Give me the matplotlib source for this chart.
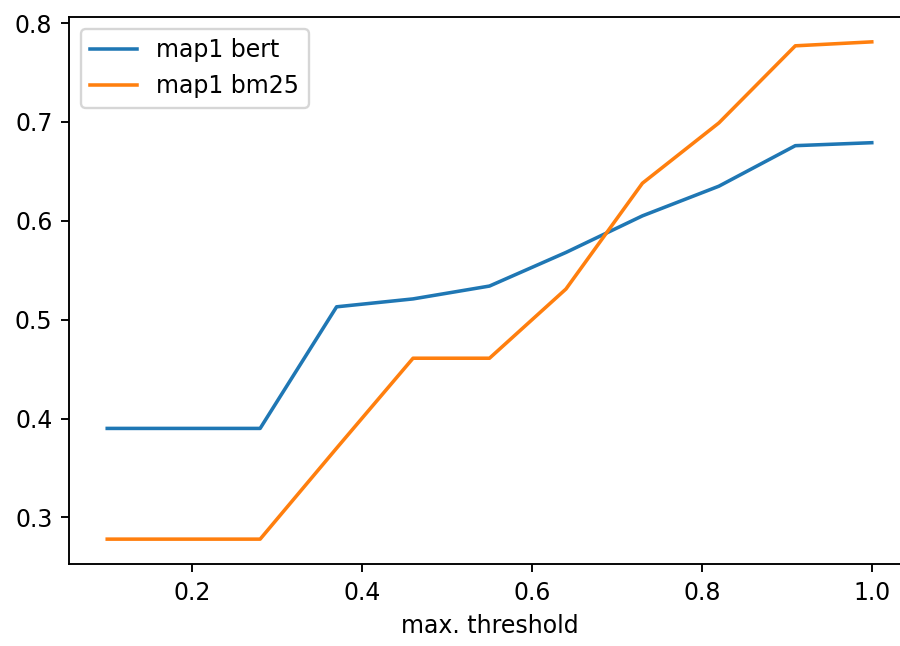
import numpy as np
import matplotlib
matplotlib.use("Agg")
import matplotlib.pyplot as plt

# thresholds 0.1 .. 1.0
thresholds = [0.1, 0.19, 0.28, 0.37, 0.46, 0.55, 0.64, 0.73, 0.82, 0.91, 1.0]

map1_bert = [0.390, 0.390, 0.390, 0.513, 0.521, 0.534, 0.568, 0.605, 0.635, 0.676, 0.679]
map1_bm25 = [0.278, 0.278, 0.278, 0.370, 0.461, 0.461, 0.531, 0.638, 0.699, 0.777, 0.781]

dpi = 170
fig = plt.figure(figsize=(900 / dpi, 646 / dpi), dpi=dpi)
# right spine falls just outside the picture, like the cropped original
ax = fig.add_axes([69 / 900, 82 / 646, 841 / 900, 547 / 646])

ax.plot(thresholds, map1_bert, label="map1 bert")
ax.plot(thresholds, map1_bm25, label="map1 bm25")

ax.set_xlabel("max. threshold")
ax.legend(loc="upper left")

fig.savefig("out.png", dpi=dpi)
